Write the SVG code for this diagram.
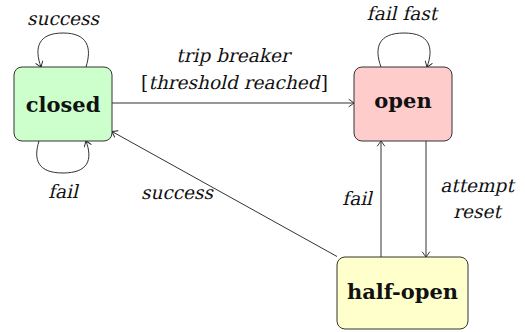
<svg xmlns="http://www.w3.org/2000/svg" width="525" height="332" viewBox="0 0 525 332">
  <defs>
    <marker id="arrow" viewBox="-6 -5 8 10" markerWidth="8" markerHeight="10" refX="0" refY="0" orient="auto" markerUnits="userSpaceOnUse">
      <path d="M -5,-3.6 Q -1.2,-1 0,0 Q -1.2,1 -5,3.6" fill="none" stroke="#222" stroke-width="0.9" stroke-linecap="round"/>
    </marker>
  </defs>
  <style>
    .node rect { stroke: #333; stroke-width: 1; }
    .label { font-family: "DejaVu Serif", serif; font-weight: bold; font-size: 21px; fill: #111; text-anchor: middle; }
    .edge { fill: none; stroke: #333; stroke-width: 1; marker-end: url(#arrow); }
    /* slanted serif for edge labels */
    .elabel { font-family: "DejaVu Serif", serif; font-size: 18.5px; fill: #111; }
    .slant { transform: skewX(-13deg); }
  </style>
  <rect width="525" height="332" fill="#fff"/>

  <g id="connectors">
    <!-- self loops -->
    <path class="edge" d="M 86 67 C 92 48, 88 33, 63 33 C 38 33, 34 48, 41 67"/>
    <path class="edge" d="M 39 141 C 33 160, 38 173, 63 173 C 88 173, 93 160, 86 141"/>
    <path class="edge" d="M 381 67 C 374 48, 378 33, 404 33 C 430 33, 434 48, 427 67"/>
    <!-- transitions -->
    <path class="edge" d="M 112 103 L 354 103"/>
    <path class="edge" d="M 337 256.5 L 112 131.5"/>
    <path class="edge" d="M 381 257 L 381 141"/>
    <path class="edge" d="M 426 141 L 426 257"/>

    <g transform="translate(63,25)"><text class="elabel slant" text-anchor="middle">success</text></g>
    <g transform="translate(63,198)"><text class="elabel slant" text-anchor="middle">fail</text></g>
    <g transform="translate(402,20)"><text class="elabel slant" text-anchor="middle">fail fast</text></g>
    <g transform="translate(233,62)"><text class="elabel slant" text-anchor="middle">trip breaker</text></g>
    <text class="elabel" x="141" y="89">[</text>
    <g transform="translate(234,89)"><text class="elabel slant" text-anchor="middle">threshold reached</text></g>
    <text class="elabel" x="328" y="89" text-anchor="end">]</text>
    <g transform="translate(177,199)"><text class="elabel slant" text-anchor="middle">success</text></g>
    <g transform="translate(372,205)"><text class="elabel slant" text-anchor="end">fail</text></g>
    <g transform="translate(477,192)"><text class="elabel slant" text-anchor="middle">attempt</text></g>
    <g transform="translate(477,218)"><text class="elabel slant" text-anchor="middle">reset</text></g>
  </g>

  <g id="closed" class="node">
    <rect x="14" y="67" width="98" height="74" rx="8" fill="#ccffcc"/>
    <text class="label" x="63" y="112">closed</text>
  </g>
  <g id="open" class="node">
    <rect x="354" y="67" width="98" height="74" rx="8" fill="#ffcccc"/>
    <text class="label" x="403" y="108">open</text>
  </g>
  <g id="half-open" class="node">
    <rect x="337" y="257" width="131" height="72" rx="8" fill="#ffffcc"/>
    <text class="label" x="402.5" y="299">half-open</text>
  </g>
</svg>
